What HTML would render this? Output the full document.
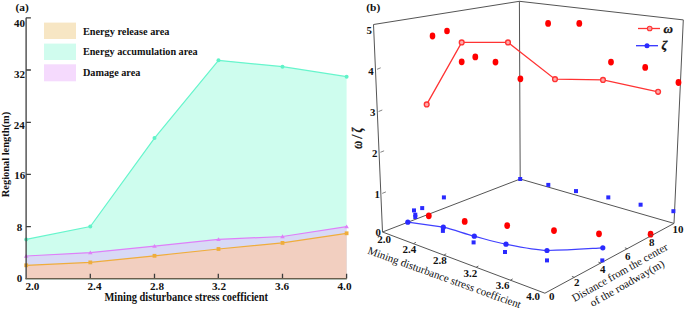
<!DOCTYPE html>
<html><head><meta charset="utf-8">
<style>
html,body{margin:0;padding:0;background:#fff;width:685px;height:311px;overflow:hidden}
svg{display:block;font-family:"Liberation Serif",serif}
.b{font-weight:bold}
</style></head><body>
<svg width="685" height="311" viewBox="0 0 685 311">
<!-- ===== Panel (a) ===== -->
<g id="pa">
  <!-- fills -->
  <polygon fill="#cefdee" points="26.2,239.4 90.3,226.5 154.5,138.1 218.5,60.3 282.5,66.7 346.6,76.7 346.6,278.2 26.2,278.2"/>
  <polygon fill="#d8d9f6" points="26.2,256 90.3,252.6 154.5,246.1 218.5,239.4 282.5,236.5 346.6,226.6 346.6,278.2 26.2,278.2"/>
  <polygon fill="#f2cfc0" points="26.2,265.3 90.3,262.4 154.5,255.8 218.5,249 282.5,242.9 346.6,233.3 346.6,278.2 26.2,278.2"/>
  <!-- lines -->
  <polyline fill="none" stroke="#66f5cc" stroke-width="1.2" points="26.2,239.4 90.3,226.5 154.5,138.1 218.5,60.3 282.5,66.7 346.6,76.7"/>
  <polyline fill="none" stroke="#de80f8" stroke-width="1.2" points="26.2,256 90.3,252.6 154.5,246.1 218.5,239.4 282.5,236.5 346.6,226.6"/>
  <polyline fill="none" stroke="#efad3c" stroke-width="1.2" points="26.2,265.3 90.3,262.4 154.5,255.8 218.5,249 282.5,242.9 346.6,233.3"/>
  <!-- markers -->
  <g fill="#60f3c8">
    <circle cx="26.2" cy="239.4" r="2"/><circle cx="90.3" cy="226.5" r="2"/><circle cx="154.5" cy="138.1" r="2"/>
    <circle cx="218.5" cy="60.3" r="2"/><circle cx="282.5" cy="66.7" r="2"/><circle cx="346.6" cy="76.7" r="2"/>
  </g>
  <g fill="#de80f8">
    <path d="M26.2,253.8l2.3,3.9h-4.6z M90.3,250.4l2.3,3.9h-4.6z M154.5,243.9l2.3,3.9h-4.6z M218.5,237.2l2.3,3.9h-4.6z M282.5,234.3l2.3,3.9h-4.6z M346.6,224.4l2.3,3.9h-4.6z"/>
  </g>
  <g fill="#efad3c">
    <rect x="24.3" y="263.4" width="3.8" height="3.8"/><rect x="88.4" y="260.5" width="3.8" height="3.8"/><rect x="152.6" y="253.9" width="3.8" height="3.8"/>
    <rect x="216.6" y="247.1" width="3.8" height="3.8"/><rect x="280.6" y="241.0" width="3.8" height="3.8"/><rect x="344.7" y="231.4" width="3.8" height="3.8"/>
  </g>
  <!-- axes -->
  <g stroke="#3c3c3c" stroke-width="1.3" fill="none">
    <path d="M26.1,17.8V279.2"/>
    <path d="M26.1,17.8h4.8M26.1,70h4.8M26.1,122.3h4.8M26.1,174.3h4.8M26.1,226.7h4.8"/>
    <path d="M90.3,278.6v-4.8M154.5,278.6v-4.8M218.3,278.6v-4.8M282.5,278.6v-4.8M346.6,278.6v-4.8"/>
  </g>
  <path d="M25.5,278.6H346.8" stroke="#6a5e4c" stroke-width="1.3"/>
  <path d="M26,279.5H346.8" stroke="#7d9a8e" stroke-opacity="0.6" stroke-width="0.8"/>
  <!-- tick labels -->
  <g class="b" font-size="11" text-anchor="middle" fill="#111">
    <text x="19.4" y="26.9">40</text>
    <text x="19.4" y="77.8">32</text>
    <text x="19.2" y="128.9">24</text>
    <text x="19.8" y="179.3">16</text>
    <text x="19.5" y="230.7">8</text>
    <text x="19.6" y="281.7">0</text>
  </g>
  <g class="b" font-size="11.2" text-anchor="middle" fill="#111">
    <text x="32.4" y="290.3">2.0</text>
    <text x="94.5" y="290.4">2.4</text>
    <text x="157" y="290.4">2.8</text>
    <text x="219" y="290.4">3.2</text>
    <text x="282.1" y="290.4">3.6</text>
    <text x="344.5" y="290.4">4.0</text>
  </g>
  <text class="b" font-size="11.6" x="104.5" y="301.4" textLength="163.5" lengthAdjust="spacingAndGlyphs" fill="#111">Mining disturbance stress coefficient</text>
  <text class="b" font-size="11" transform="translate(8.8,197.2) rotate(-90)" textLength="85.3" lengthAdjust="spacingAndGlyphs" fill="#111">Regional length(m)</text>
  <text class="b" font-size="11.4" x="15.5" y="11.4" fill="#111">(a)</text>
  <!-- legend -->
  <rect x="44" y="22.6" width="32" height="16.4" fill="#f7e6c4"/>
  <rect x="44" y="43.6" width="32" height="16.4" fill="#d0fcee"/>
  <rect x="44" y="64.3" width="32" height="17" fill="#f5dafd"/>
  <g class="b" font-size="11" fill="#111">
    <text x="82.9" y="34.6" textLength="86.5" lengthAdjust="spacingAndGlyphs">Energy release area</text>
    <text x="82.9" y="55.4" textLength="114.8" lengthAdjust="spacingAndGlyphs">Energy accumulation area</text>
    <text x="82.9" y="76.3" textLength="57.5" lengthAdjust="spacingAndGlyphs">Damage area</text>
  </g>
</g>

<!-- ===== Panel (b) ===== -->
<g id="pb">
  <text class="b" font-size="11.4" x="366.3" y="11.4" fill="#111">(b)</text>
  <!-- box -->
  <g stroke="#555" stroke-width="1" fill="none">
    <path d="M373.5,24.5L382.5,232L544.9,293.2L674,223.4L683.3,19.9L519.4,1.3L373.5,24.5"/>
    <path d="M519.4,1.3L520.2,179M382.5,232L520.2,179L674,223.4"/>
  </g>
  <!-- vertical ticks -->
  <g stroke="#777" stroke-width="0.9">
    <path d="M377,69.3l3.7,-1.5M378.6,111.5l3.7,-1.5M380.4,152.3l3.7,-1.5M382.2,193.4l3.7,-1.5"/>
  </g>
  <g class="b" font-size="10.8" fill="#111">
    <text x="366.6" y="34.3">5</text>
    <text x="368.2" y="75.3">4</text>
    <text x="370" y="116">3</text>
    <text x="372" y="156.5">2</text>
    <text x="374.4" y="198">1</text>
    <text x="375.6" y="235.5">0</text>
  </g>
  <text font-size="14" font-style="italic" font-weight="bold" transform="translate(361.6,148.8) rotate(-90)" textLength="21" lengthAdjust="spacingAndGlyphs" fill="#111" stroke="#111" stroke-width="0.3">ω / ζ</text>
  <!-- red line w -->
  <polyline fill="none" stroke="#ff3333" stroke-width="1.3" points="426.7,104.4 461.7,42.4 508,42.4 555,79.2 603,79.9 658.1,91.8"/>
  <g fill="#ffaaaa" stroke="#ff3333" stroke-width="1.35">
    <circle cx="426.7" cy="104.4" r="2.4"/><circle cx="461.7" cy="42.4" r="2.4"/><circle cx="508" cy="42.4" r="2.4"/>
    <circle cx="555" cy="79.2" r="2.4"/><circle cx="603" cy="79.9" r="2.4"/><circle cx="658.1" cy="91.8" r="2.4"/>
  </g>
  <!-- red dots -->
  <g fill="#ff0000">
    <ellipse cx="432.5" cy="36" rx="2.8" ry="3.4"/>
    <ellipse cx="447" cy="31" rx="2.8" ry="3.2"/>
    <ellipse cx="461.7" cy="61.8" rx="2.9" ry="3.4"/>
    <ellipse cx="475.3" cy="56.9" rx="2.9" ry="3.4"/>
    <ellipse cx="495.5" cy="62.1" rx="2.9" ry="3.4"/>
    <ellipse cx="520.4" cy="78.8" rx="2.9" ry="3.4"/>
    <ellipse cx="548.1" cy="23.4" rx="2.9" ry="3.4"/>
    <ellipse cx="579.3" cy="23.4" rx="2.9" ry="3.4"/>
    <ellipse cx="611" cy="62.1" rx="2.9" ry="3.4"/>
    <ellipse cx="645.2" cy="67.4" rx="2.9" ry="3.4"/>
    <ellipse cx="678.5" cy="82.5" rx="2.9" ry="3.4"/>
    <ellipse cx="428.8" cy="215.8" rx="2.9" ry="3.4"/>
    <ellipse cx="464.7" cy="221.4" rx="2.9" ry="3.4"/>
    <ellipse cx="507.2" cy="225.6" rx="2.9" ry="3.4"/>
    <ellipse cx="554" cy="230.6" rx="2.9" ry="3.4"/>
    <ellipse cx="599" cy="233.8" rx="2.9" ry="3.4"/>
    <ellipse cx="650.6" cy="234.2" rx="2.9" ry="3.4"/>
  </g>
  <!-- blue squares -->
  <g fill="#2a2aff">
    <rect x="412" y="208.4" width="4" height="4"/>
    <rect x="413.3" y="212.7" width="4" height="4"/>
    <rect x="413.3" y="215" width="4" height="4"/>
    <rect x="420.2" y="206.1" width="4" height="4"/>
    <rect x="441.9" y="195.4" width="4" height="4"/>
    <rect x="518.2" y="177" width="4" height="4"/>
    <rect x="546.3" y="182.9" width="4" height="4"/>
    <rect x="574" y="189.1" width="4" height="4"/>
    <rect x="606.3" y="195.4" width="4" height="4"/>
    <rect x="638.6" y="202.7" width="4" height="4"/>
    <rect x="671.4" y="209.2" width="4" height="4"/>
    <rect x="440.9" y="228.9" width="4" height="4"/>
    <rect x="471.6" y="240.4" width="4" height="4"/>
    <rect x="503" y="250" width="4" height="4"/>
    <rect x="545" y="258.4" width="4" height="4"/>
    <rect x="600.3" y="258.4" width="4" height="4"/>
  </g>
  <!-- blue line z -->
  <path fill="none" stroke="#4040ff" stroke-width="1.2" d="M407.8,222.2L443.3,227.2C455,230 465,234 474.3,236.2C485,239 495,242 506,244.2C520,247 535,250 547,250.5C570,250 590,248.5 602.8,247.8"/>
  <g fill="#2a2aff">
    <circle cx="407.8" cy="222.2" r="2.6"/><circle cx="443.3" cy="227.2" r="2.6"/><circle cx="474.3" cy="236.2" r="2.6"/>
    <circle cx="506" cy="244.2" r="2.6"/><circle cx="547" cy="250.5" r="2.6"/><circle cx="602.8" cy="247.8" r="2.6"/>
  </g>
  <!-- legend -->
  <path d="M638,28.5H660" stroke="#ff3333" stroke-width="1.3"/>
  <circle cx="649.7" cy="28.5" r="2.3" fill="#f7a0a0" stroke="#ff3333" stroke-width="1.1"/>
  <text x="663.6" y="32.6" font-size="13" font-weight="bold" font-style="italic" fill="#111" stroke="#111" stroke-width="0.3">ω</text>
  <path d="M636,45.7H658" stroke="#3333ff" stroke-width="1.3"/>
  <circle cx="647" cy="45.7" r="2.5" fill="#2a2aff"/>
  <text x="661.6" y="48.8" font-size="13" font-weight="bold" font-style="italic" fill="#111" stroke="#111" stroke-width="0.3">ζ</text>
  <g stroke="#555" stroke-width="0.9">
    <path d="M413.5,243.7l2.4,-1.4M443.8,255.2l2.4,-1.4M476,267.4l2.4,-1.4M510.3,280.3l2.4,-1.4"/>
    <path d="M574.5,277.4l-2.6,-1M601,263.2l-2.6,-1M627.5,248.8l-2.6,-1M652.3,235.5l-2.6,-1"/>
  </g>
  <!-- x axis ticks & labels (front-left) -->
  <g class="b" font-size="11" fill="#111">
    <text x="377.3" y="243.2">2.0</text>
    <text x="402.6" y="252.6">2.4</text>
    <text x="433" y="264.2">2.8</text>
    <text x="463.4" y="277">3.2</text>
    <text x="495.7" y="289">3.6</text>
    <text x="526.3" y="300.2">4.0</text>
  </g>
  <g class="b" font-size="11" fill="#111">
    <text x="549" y="299.5">0</text>
    <text x="574" y="286.4">2</text>
    <text x="600" y="272.6">4</text>
    <text x="625" y="259.6">6</text>
    <text x="649" y="245.7">8</text>
    <text x="672.5" y="232.7">10</text>
  </g>
  <text font-size="11" fill="#111" transform="translate(367,253.5) rotate(19.8)" textLength="162" lengthAdjust="spacingAndGlyphs">Mining disturbance stress coefficient</text>
  <text font-size="11" fill="#111" transform="translate(574.5,302) rotate(-29.3)" textLength="108" lengthAdjust="spacingAndGlyphs">Distance from the center</text>
  <text font-size="11" fill="#111" transform="translate(592.5,307) rotate(-29.5)" textLength="83.5" lengthAdjust="spacingAndGlyphs">of the roadway(m)</text>
</g>
</svg>
</body></html>
